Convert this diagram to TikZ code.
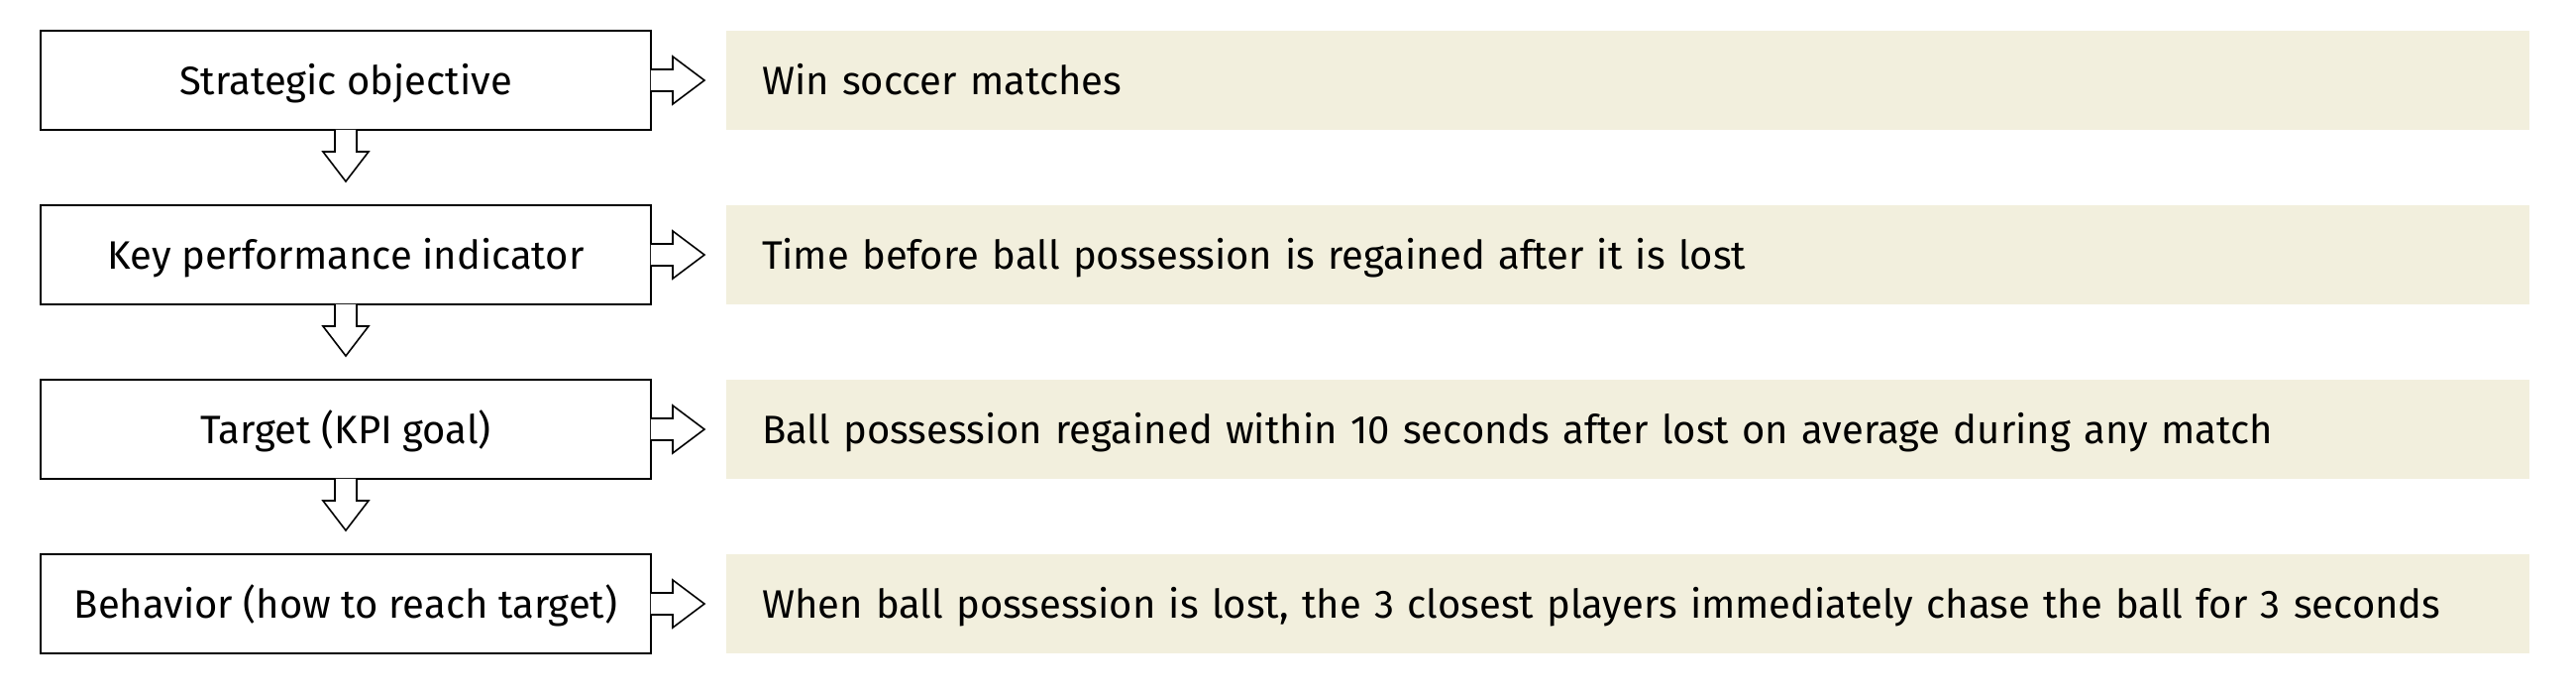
\documentclass[tikz,border=0pt]{standalone}
\usepackage{fontspec}
\setmainfont{Fira Sans}
\usepackage{tikz}
\definecolor{ffefdd}{rgb}{0.949,0.937,0.867}

\begin{document}
\begin{tikzpicture}[line cap=butt,line join=miter,x=0.25pt,y=-0.25pt,
  stagebox/.style={draw=black,line width=0.5pt,fill=white,inner sep=0pt,
    minimum width=154pt,minimum height=25pt,text height=7pt,text depth=0pt,
    font=\fontsize{10}{12}\selectfont},
  notebox/.style={fill=ffefdd,inner xsep=9pt,inner ysep=0pt,text width=437pt,
    align=left,minimum height=25pt,text height=7pt,text depth=0pt,
    font=\fontsize{10}{12}\selectfont},
  blockarrow/.style={draw=black,line width=0.4pt,fill=white}]
\useasboundingbox (0,0) rectangle (2600,701);
% left column
\node [stagebox] (obj) at (349,81) {Strategic objective};
\node [stagebox] (kpi) at (349,257) {Key performance indicator};
\node [stagebox] (tgt) at (349,433) {Target (KPI goal)};
\node [stagebox] (beh) at (349,609) {Behavior (how to reach target)};
% right column
\node [notebox] (objtxt) at (1643,81) {Win soccer matches};
\node [notebox] (kpitxt) at (1643,257) {Time before ball possession is regained after it is lost};
\node [notebox] (tgttxt) at (1643,433) {Ball possession regained within 10 seconds after lost on average during any match};
\node [notebox] (behtxt) at (1643,609) {When ball possession is lost, the 3 closest players immediately chase the ball for 3 seconds};
% arrows to the right
\draw [blockarrow] (obj.east) ++(-1.2,-11) -- ++(22.2,0) -- ++(0,-13) -- ++(32,24) -- ++(-32,24) -- ++(0,-13) -- ++(-22.2,0);
\draw [blockarrow] (kpi.east) ++(-1.2,-11) -- ++(22.2,0) -- ++(0,-13) -- ++(32,24) -- ++(-32,24) -- ++(0,-13) -- ++(-22.2,0);
\draw [blockarrow] (tgt.east) ++(-1.2,-11) -- ++(22.2,0) -- ++(0,-13) -- ++(32,24) -- ++(-32,24) -- ++(0,-13) -- ++(-22.2,0);
\draw [blockarrow] (beh.east) ++(-1.2,-11) -- ++(22.2,0) -- ++(0,-13) -- ++(32,24) -- ++(-32,24) -- ++(0,-13) -- ++(-22.2,0);
% arrows down
\draw [blockarrow] (obj.south) ++(-11,-1.2) -- ++(0,22.2) -- ++(-12,0) -- ++(23,30) -- ++(23,-30) -- ++(-12,0) -- ++(0,-22.2);
\draw [blockarrow] (kpi.south) ++(-11,-1.2) -- ++(0,22.2) -- ++(-12,0) -- ++(23,30) -- ++(23,-30) -- ++(-12,0) -- ++(0,-22.2);
\draw [blockarrow] (tgt.south) ++(-11,-1.2) -- ++(0,22.2) -- ++(-12,0) -- ++(23,30) -- ++(23,-30) -- ++(-12,0) -- ++(0,-22.2);
\end{tikzpicture}
\end{document}
